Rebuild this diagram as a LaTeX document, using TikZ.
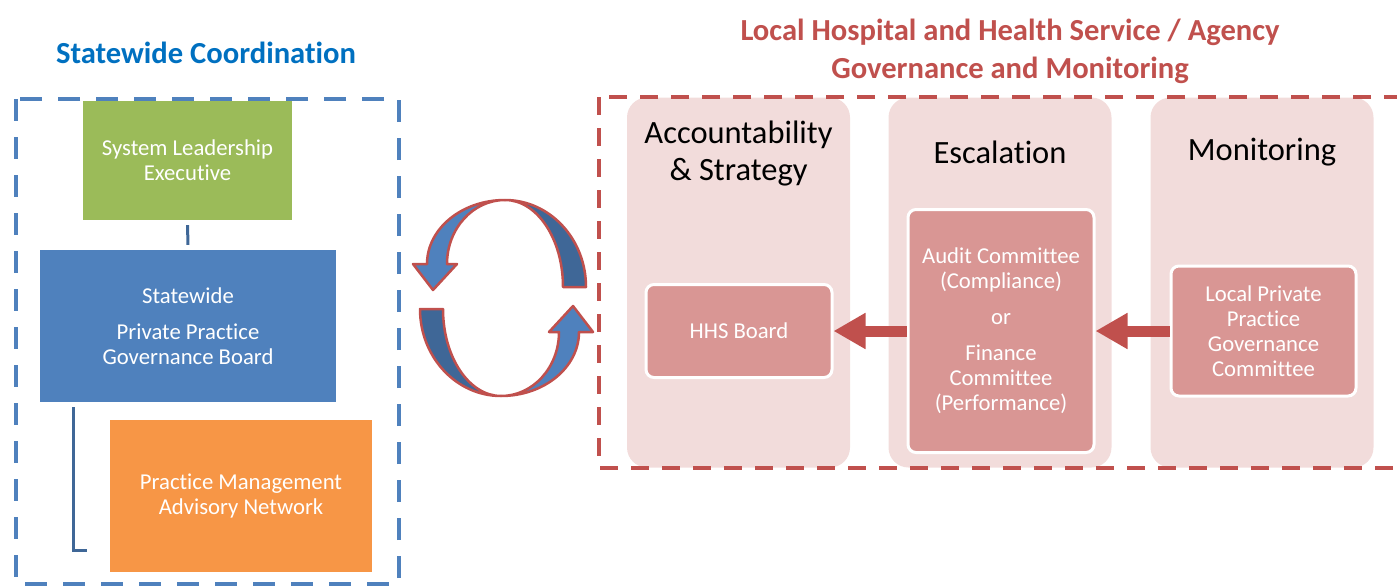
\documentclass[tikz,border=0pt]{standalone}
\usepackage{fontspec}
\setmainfont{Carlito}[Ligatures={NoCommon}]
\usetikzlibrary{arrows.meta, positioning}

\definecolor{azulgob}{HTML}{4F81BD}
\definecolor{azuloscuro}{HTML}{3F6797}
\definecolor{azultitulo}{HTML}{0070C0}
\definecolor{verdeexec}{HTML}{9BBB59}
\definecolor{naranja}{HTML}{F79646}
\definecolor{rojogob}{HTML}{C0504D}
\definecolor{rosafondo}{HTML}{F2DCDB}
\definecolor{rosacaja}{HTML}{D99694}

\begin{document}
\begin{tikzpicture}[x=1pt, y=1pt,
		cajasolida/.style={inner sep=0pt, align=center, text=white, font=\fontsize{22.7}{25}\selectfont},
		cajarosa/.style={cajasolida, fill=rosacaja, draw=white, line width=3pt, rounded corners=8pt},
		panel/.style={fill=rosafondo, rounded corners=20pt, minimum width=223pt, minimum height=370pt},
		titulocol/.style={align=center, font=\fontsize{32.5}{37}\selectfont},
		titulo/.style={align=center, font=\bfseries\fontsize{30.6}{38}\selectfont},
		conector/.style={draw=azuloscuro, line width=3pt},
		flechabloque/.style={draw=rojogob, line width=11pt, -{Triangle[length=32pt, width=34pt]}},
		azuldash/.style={draw=azulgob, line width=4pt, dash pattern=on 22pt off 16pt},
		rojodash/.style={draw=rojogob, line width=4pt, dash pattern=on 18pt off 13pt},
		flechacirc/.style={draw=rojogob, line width=2.5pt, line join=round}]
				\useasboundingbox (0,0) rectangle (1397,-586);
				\clip (0,0) rectangle (1397,-586);
				
				% Coordinacion estatal
				\node[titulo, text=azultitulo] (tizq) at (206,-52.5) {Statewide Coordination};
				\draw[azuldash] (16,-99) rectangle (399,-584);
				\node[cajasolida, fill=verdeexec, minimum width=209pt, minimum height=119pt] (sle) at (187.5,-160.5) {System Leadership\\Executive};
				\node[cajasolida, fill=azulgob, minimum width=296pt, minimum height=152pt] (spgb) at (188,-326) {Statewide\\[11pt]Private Practice\\Governance Board};
				\node[cajasolida, fill=naranja, minimum width=262pt, minimum height=152pt] (pman) at (241,-496) {Practice Management\\Advisory Network};
				
				% Conectores
				\coordinate (finpm) at (87,-550);
				\draw[conector, shorten <=5pt, shorten >=5pt] (sle.south) -- (spgb.north);
				\draw[conector] ([xshift=34pt, yshift=-5pt]spgb.south west) |- (finpm);
				
				% Flechas circulares
				\foreach \giro in {0,180}{
					\begin{scope}[rotate around={\giro:(503,-298)}]
						\draw[flechacirc, fill=azuloscuro] (586,-287) arc[start angle=0, end angle=90, x radius=81, y radius=87]
							arc[start angle=90, end angle=0, x radius=58, y radius=87] -- cycle;
						\draw[flechacirc, fill=azulgob] (505,-200) arc[start angle=90, end angle=180, x radius=78, y radius=64]
							-- (413,-264) -- (433,-290) -- (457,-264) -- (447,-264)
							arc[start angle=180, end angle=90, x radius=58, y radius=64] -- cycle;
					\end{scope}
				}
				
				% Gobernanza local
				\node[titulo, text=rojogob] (tder) at (1010,-51) {Local Hospital and Health Service / Agency\\Governance and Monitoring};
				\node[panel] (pacc) at (738.5,-282.5) {};
				\node[panel] (pesc) at (1000,-282.5) {};
				\node[panel] (pmon) at (1262,-282.5) {};
				\node[titulocol] (tacc) at (738.5,-153.5) {Accountability\\\& Strategy};
				\node[titulocol] (tesc) at (1000,-152) {Escalation};
				\node[titulocol] (tmon) at (1262,-152) {Monitoring};
				\draw[rojodash] (599,-97) rectangle (1420,-468);
				
				\node[cajarosa, minimum width=186pt, minimum height=93pt] (hhs) at (739,-331) {HHS Board};
				\node[cajarosa, minimum width=186pt, minimum height=243pt] (auditoria) at (1001,-331) {Audit Committee\\(Compliance)\\[11pt]or\\[11pt]Finance\\Committee\\(Performance)};
				\node[cajarosa, minimum width=185pt, minimum height=130pt] (comitelocal) at (1263.5,-331) {Local Private\\Practice\\Governance\\Committee};
				
				% Escalamiento
				\draw[flechabloque] (auditoria.west) -- (hhs.east);
				\draw[flechabloque] (comitelocal.west) -- (auditoria.east);
			\end{tikzpicture}
\end{document}
